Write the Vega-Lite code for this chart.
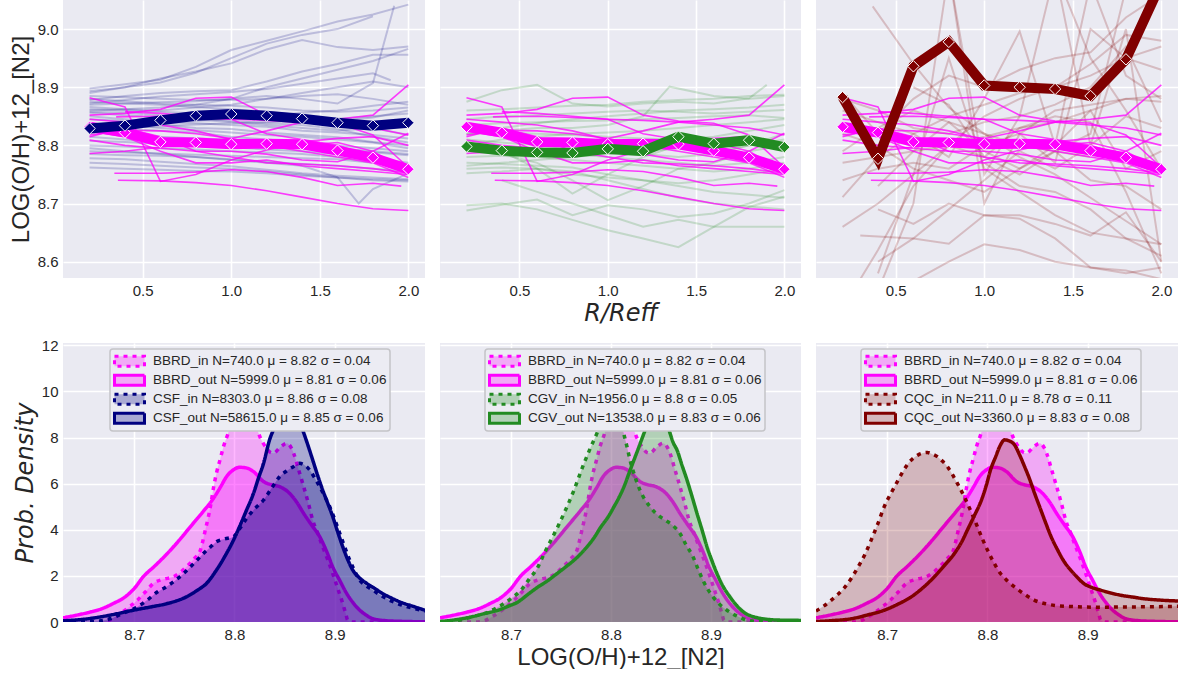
{
"$schema":"https://vega.github.io/schema/vega-lite/v6.json",
"autosize":{"type":"pad"},
"padding":{"left":9,"top":0,"right":0,"bottom":0},
"background":"white",
"datasets":{
"bbrd":[
{"id":"m1","r":0.2,"v":8.882},{"id":"m1","r":0.4,"v":8.866},{"id":"m1","r":0.6,"v":8.738},{"id":"m1","r":0.8,"v":8.750},{"id":"m1","r":1.0,"v":8.775},{"id":"m1","r":1.2,"v":8.792},{"id":"m1","r":1.4,"v":8.806},{"id":"m1","r":1.6,"v":8.812},{"id":"m1","r":1.8,"v":8.815},{"id":"m1","r":2.0,"v":8.800},
{"id":"m2","r":0.2,"v":8.852},{"id":"m2","r":0.4,"v":8.855},{"id":"m2","r":0.6,"v":8.862},{"id":"m2","r":0.8,"v":8.881},{"id":"m2","r":1.0,"v":8.883},{"id":"m2","r":1.2,"v":8.852},{"id":"m2","r":1.4,"v":8.842},{"id":"m2","r":1.6,"v":8.838},{"id":"m2","r":1.8,"v":8.818},{"id":"m2","r":2.0,"v":8.762},
{"id":"m3","r":0.2,"v":8.786},{"id":"m3","r":0.4,"v":8.790},{"id":"m3","r":0.6,"v":8.797},{"id":"m3","r":0.8,"v":8.805},{"id":"m3","r":1.0,"v":8.812},{"id":"m3","r":1.2,"v":8.825},{"id":"m3","r":1.4,"v":8.840},{"id":"m3","r":1.6,"v":8.845},{"id":"m3","r":1.8,"v":8.852},{"id":"m3","r":2.0,"v":8.904},
{"id":"m4","r":0.36,"v":8.740},{"id":"m4","r":0.6,"v":8.739},{"id":"m4","r":0.8,"v":8.736},{"id":"m4","r":1.0,"v":8.731},{"id":"m4","r":1.2,"v":8.722},{"id":"m4","r":1.4,"v":8.711},{"id":"m4","r":1.6,"v":8.700},{"id":"m4","r":1.8,"v":8.691},{"id":"m4","r":2.0,"v":8.688},
{"id":"m5","r":0.34,"v":8.752},{"id":"m5","r":0.6,"v":8.752},{"id":"m5","r":0.8,"v":8.754},{"id":"m5","r":1.0,"v":8.758},{"id":"m5","r":1.2,"v":8.755},{"id":"m5","r":1.4,"v":8.745},{"id":"m5","r":1.6,"v":8.731},{"id":"m5","r":1.8,"v":8.735},{"id":"m5","r":1.96,"v":8.730},
{"id":"m6","r":0.2,"v":8.818},{"id":"m6","r":0.4,"v":8.826},{"id":"m6","r":0.6,"v":8.825},{"id":"m6","r":0.8,"v":8.820},{"id":"m6","r":1.0,"v":8.812},{"id":"m6","r":1.2,"v":8.800},{"id":"m6","r":1.4,"v":8.790},{"id":"m6","r":1.6,"v":8.780},{"id":"m6","r":1.8,"v":8.770},{"id":"m6","r":2.0,"v":8.745},
{"id":"m7","r":0.2,"v":8.809},{"id":"m7","r":0.4,"v":8.800},{"id":"m7","r":0.6,"v":8.795},{"id":"m7","r":0.8,"v":8.790},{"id":"m7","r":1.0,"v":8.790},{"id":"m7","r":1.2,"v":8.785},{"id":"m7","r":1.4,"v":8.775},{"id":"m7","r":1.6,"v":8.772},{"id":"m7","r":1.8,"v":8.790},{"id":"m7","r":2.0,"v":8.821},
{"id":"m8","r":0.35,"v":8.849},{"id":"m8","r":0.6,"v":8.850},{"id":"m8","r":0.8,"v":8.848},{"id":"m8","r":1.0,"v":8.845},{"id":"m8","r":1.2,"v":8.843},{"id":"m8","r":1.4,"v":8.840},{"id":"m8","r":1.6,"v":8.835},{"id":"m8","r":1.8,"v":8.830},{"id":"m8","r":2.0,"v":8.818},
{"id":"m9","r":0.2,"v":8.825},{"id":"m9","r":0.4,"v":8.815},{"id":"m9","r":0.6,"v":8.790},{"id":"m9","r":0.8,"v":8.770},{"id":"m9","r":1.0,"v":8.770},{"id":"m9","r":1.2,"v":8.775},{"id":"m9","r":1.4,"v":8.765},{"id":"m9","r":1.6,"v":8.760},{"id":"m9","r":1.8,"v":8.755},{"id":"m9","r":2.0,"v":8.750},
{"id":"m10","r":0.2,"v":8.815},{"id":"m10","r":0.4,"v":8.830},{"id":"m10","r":0.6,"v":8.815},{"id":"m10","r":0.8,"v":8.790},{"id":"m10","r":1.0,"v":8.780},{"id":"m10","r":1.2,"v":8.770},{"id":"m10","r":1.4,"v":8.768},{"id":"m10","r":1.6,"v":8.765},{"id":"m10","r":1.8,"v":8.760},{"id":"m10","r":2.0,"v":8.752},
{"id":"m11","r":0.2,"v":8.845},{"id":"m11","r":0.4,"v":8.840},{"id":"m11","r":0.6,"v":8.835},{"id":"m11","r":0.8,"v":8.825},{"id":"m11","r":1.0,"v":8.810},{"id":"m11","r":1.2,"v":8.795},{"id":"m11","r":1.4,"v":8.800},{"id":"m11","r":1.6,"v":8.805},{"id":"m11","r":1.8,"v":8.790},{"id":"m11","r":2.0,"v":8.755},
{"id":"m12","r":0.4,"v":8.858},{"id":"m12","r":0.6,"v":8.855},{"id":"m12","r":0.8,"v":8.850},{"id":"m12","r":1.0,"v":8.845},{"id":"m12","r":1.2,"v":8.820},{"id":"m12","r":1.4,"v":8.810},{"id":"m12","r":1.6,"v":8.800},{"id":"m12","r":1.8,"v":8.780},{"id":"m12","r":2.0,"v":8.760}
],
"csf":[
{"id":"n1","r":0.2,"v":8.898},{"id":"n1","r":0.4,"v":8.905},{"id":"n1","r":0.6,"v":8.913},{"id":"n1","r":0.8,"v":8.935},{"id":"n1","r":1.0,"v":8.964},{"id":"n1","r":1.2,"v":8.980},{"id":"n1","r":1.4,"v":8.996},{"id":"n1","r":1.6,"v":9.013},{"id":"n1","r":1.8,"v":9.025},{"id":"n1","r":2.0,"v":9.042},
{"id":"n2","r":0.2,"v":8.893},{"id":"n2","r":0.4,"v":8.900},{"id":"n2","r":0.6,"v":8.908},{"id":"n2","r":0.8,"v":8.925},{"id":"n2","r":1.0,"v":8.950},{"id":"n2","r":1.2,"v":8.975},{"id":"n2","r":1.4,"v":8.990},{"id":"n2","r":1.6,"v":9.000},{"id":"n2","r":1.8,"v":9.022},
{"id":"n3","r":0.2,"v":8.890},{"id":"n3","r":0.4,"v":8.900},{"id":"n3","r":0.6,"v":8.915},{"id":"n3","r":0.8,"v":8.927},{"id":"n3","r":1.0,"v":8.941},{"id":"n3","r":1.2,"v":8.965},{"id":"n3","r":1.4,"v":8.981},{"id":"n3","r":1.6,"v":8.969},{"id":"n3","r":1.8,"v":8.964},{"id":"n3","r":2.0,"v":8.970},
{"id":"n4","r":0.2,"v":8.878},{"id":"n4","r":0.4,"v":8.885},{"id":"n4","r":0.6,"v":8.890},{"id":"n4","r":0.8,"v":8.893},{"id":"n4","r":1.0,"v":8.895},{"id":"n4","r":1.2,"v":8.910},{"id":"n4","r":1.4,"v":8.927},{"id":"n4","r":1.6,"v":8.940},{"id":"n4","r":1.8,"v":8.956},{"id":"n4","r":2.0,"v":8.956},
{"id":"n5","r":0.2,"v":8.872},{"id":"n5","r":0.4,"v":8.878},{"id":"n5","r":0.6,"v":8.884},{"id":"n5","r":0.8,"v":8.888},{"id":"n5","r":1.0,"v":8.892},{"id":"n5","r":1.2,"v":8.897},{"id":"n5","r":1.4,"v":8.906},{"id":"n5","r":1.6,"v":8.915},{"id":"n5","r":1.8,"v":8.924},{"id":"n5","r":1.9,"v":8.912},
{"id":"n6","r":0.2,"v":8.870},{"id":"n6","r":0.4,"v":8.872},{"id":"n6","r":0.6,"v":8.874},{"id":"n6","r":0.8,"v":8.876},{"id":"n6","r":1.0,"v":8.880},{"id":"n6","r":1.2,"v":8.885},{"id":"n6","r":1.4,"v":8.880},{"id":"n6","r":1.6,"v":8.872},{"id":"n6","r":1.8,"v":8.907},{"id":"n6","r":1.92,"v":9.040},
{"id":"n7","r":0.2,"v":8.860},{"id":"n7","r":0.4,"v":8.862},{"id":"n7","r":0.6,"v":8.865},{"id":"n7","r":0.8,"v":8.870},{"id":"n7","r":1.0,"v":8.880},{"id":"n7","r":1.2,"v":8.900},{"id":"n7","r":1.4,"v":8.915},{"id":"n7","r":1.6,"v":8.930},{"id":"n7","r":1.8,"v":8.945},{"id":"n7","r":2.0,"v":8.966},
{"id":"n8","r":0.2,"v":8.866},{"id":"n8","r":0.4,"v":8.862},{"id":"n8","r":0.6,"v":8.860},{"id":"n8","r":0.8,"v":8.865},{"id":"n8","r":1.0,"v":8.870},{"id":"n8","r":1.2,"v":8.880},{"id":"n8","r":1.4,"v":8.890},{"id":"n8","r":1.6,"v":8.900},{"id":"n8","r":1.8,"v":8.910},{"id":"n8","r":2.0,"v":8.900},
{"id":"n9","r":0.2,"v":8.885},{"id":"n9","r":0.4,"v":8.883},{"id":"n9","r":0.6,"v":8.880},{"id":"n9","r":0.8,"v":8.878},{"id":"n9","r":1.0,"v":8.878},{"id":"n9","r":1.2,"v":8.880},{"id":"n9","r":1.4,"v":8.885},{"id":"n9","r":1.6,"v":8.888},{"id":"n9","r":1.8,"v":8.880},{"id":"n9","r":2.0,"v":8.870},
{"id":"n10","r":0.2,"v":8.880},{"id":"n10","r":0.4,"v":8.876},{"id":"n10","r":0.6,"v":8.872},{"id":"n10","r":0.8,"v":8.870},{"id":"n10","r":1.0,"v":8.868},{"id":"n10","r":1.2,"v":8.865},{"id":"n10","r":1.4,"v":8.860},{"id":"n10","r":1.6,"v":8.858},{"id":"n10","r":1.8,"v":8.860},{"id":"n10","r":2.0,"v":8.865},
{"id":"n11","r":0.2,"v":8.862},{"id":"n11","r":0.4,"v":8.860},{"id":"n11","r":0.6,"v":8.858},{"id":"n11","r":0.8,"v":8.855},{"id":"n11","r":1.0,"v":8.850},{"id":"n11","r":1.2,"v":8.848},{"id":"n11","r":1.4,"v":8.845},{"id":"n11","r":1.6,"v":8.842},{"id":"n11","r":1.8,"v":8.848},{"id":"n11","r":2.0,"v":8.860},
{"id":"n12","r":0.2,"v":8.856},{"id":"n12","r":0.4,"v":8.852},{"id":"n12","r":0.6,"v":8.848},{"id":"n12","r":0.8,"v":8.845},{"id":"n12","r":1.0,"v":8.840},{"id":"n12","r":1.2,"v":8.835},{"id":"n12","r":1.4,"v":8.830},{"id":"n12","r":1.6,"v":8.825},{"id":"n12","r":1.8,"v":8.830},{"id":"n12","r":2.0,"v":8.840},
{"id":"n13","r":0.2,"v":8.850},{"id":"n13","r":0.4,"v":8.845},{"id":"n13","r":0.6,"v":8.840},{"id":"n13","r":0.8,"v":8.838},{"id":"n13","r":1.0,"v":8.835},{"id":"n13","r":1.2,"v":8.832},{"id":"n13","r":1.4,"v":8.825},{"id":"n13","r":1.6,"v":8.822},{"id":"n13","r":1.8,"v":8.818},{"id":"n13","r":2.0,"v":8.812},
{"id":"n14","r":0.2,"v":8.845},{"id":"n14","r":0.4,"v":8.842},{"id":"n14","r":0.6,"v":8.836},{"id":"n14","r":0.8,"v":8.830},{"id":"n14","r":1.0,"v":8.828},{"id":"n14","r":1.2,"v":8.822},{"id":"n14","r":1.4,"v":8.818},{"id":"n14","r":1.6,"v":8.814},{"id":"n14","r":1.8,"v":8.806},{"id":"n14","r":2.0,"v":8.800},
{"id":"n15","r":0.2,"v":8.838},{"id":"n15","r":0.4,"v":8.835},{"id":"n15","r":0.6,"v":8.830},{"id":"n15","r":0.8,"v":8.826},{"id":"n15","r":1.0,"v":8.822},{"id":"n15","r":1.2,"v":8.818},{"id":"n15","r":1.4,"v":8.815},{"id":"n15","r":1.6,"v":8.810},{"id":"n15","r":1.8,"v":8.805},{"id":"n15","r":2.0,"v":8.795},
{"id":"n16","r":0.2,"v":8.830},{"id":"n16","r":0.4,"v":8.828},{"id":"n16","r":0.6,"v":8.825},{"id":"n16","r":0.8,"v":8.822},{"id":"n16","r":1.0,"v":8.815},{"id":"n16","r":1.2,"v":8.810},{"id":"n16","r":1.4,"v":8.805},{"id":"n16","r":1.6,"v":8.800},{"id":"n16","r":1.8,"v":8.795},{"id":"n16","r":2.0,"v":8.790},
{"id":"n17","r":0.2,"v":8.822},{"id":"n17","r":0.4,"v":8.820},{"id":"n17","r":0.6,"v":8.815},{"id":"n17","r":0.8,"v":8.812},{"id":"n17","r":1.0,"v":8.810},{"id":"n17","r":1.2,"v":8.808},{"id":"n17","r":1.4,"v":8.800},{"id":"n17","r":1.6,"v":8.795},{"id":"n17","r":1.8,"v":8.790},{"id":"n17","r":2.0,"v":8.785},
{"id":"n18","r":0.2,"v":8.815},{"id":"n18","r":0.4,"v":8.810},{"id":"n18","r":0.6,"v":8.806},{"id":"n18","r":0.8,"v":8.802},{"id":"n18","r":1.0,"v":8.800},{"id":"n18","r":1.2,"v":8.798},{"id":"n18","r":1.4,"v":8.795},{"id":"n18","r":1.6,"v":8.790},{"id":"n18","r":1.8,"v":8.788},{"id":"n18","r":2.0,"v":8.783},
{"id":"n19","r":0.2,"v":8.808},{"id":"n19","r":0.4,"v":8.806},{"id":"n19","r":0.6,"v":8.803},{"id":"n19","r":0.8,"v":8.800},{"id":"n19","r":1.0,"v":8.797},{"id":"n19","r":1.2,"v":8.793},{"id":"n19","r":1.4,"v":8.790},{"id":"n19","r":1.6,"v":8.785},{"id":"n19","r":1.8,"v":8.778},{"id":"n19","r":2.0,"v":8.770},
{"id":"n20","r":0.2,"v":8.800},{"id":"n20","r":0.4,"v":8.798},{"id":"n20","r":0.6,"v":8.795},{"id":"n20","r":0.8,"v":8.793},{"id":"n20","r":1.0,"v":8.790},{"id":"n20","r":1.2,"v":8.788},{"id":"n20","r":1.4,"v":8.785},{"id":"n20","r":1.6,"v":8.780},{"id":"n20","r":1.8,"v":8.774},{"id":"n20","r":2.0,"v":8.765},
{"id":"n21","r":0.2,"v":8.790},{"id":"n21","r":0.4,"v":8.788},{"id":"n21","r":0.6,"v":8.786},{"id":"n21","r":0.8,"v":8.784},{"id":"n21","r":1.0,"v":8.782},{"id":"n21","r":1.2,"v":8.780},{"id":"n21","r":1.4,"v":8.778},{"id":"n21","r":1.6,"v":8.776},{"id":"n21","r":1.8,"v":8.770},{"id":"n21","r":2.0,"v":8.762},
{"id":"n22","r":0.2,"v":8.785},{"id":"n22","r":0.4,"v":8.783},{"id":"n22","r":0.6,"v":8.782},{"id":"n22","r":0.8,"v":8.780},{"id":"n22","r":1.0,"v":8.776},{"id":"n22","r":1.2,"v":8.772},{"id":"n22","r":1.4,"v":8.768},{"id":"n22","r":1.6,"v":8.765},{"id":"n22","r":1.8,"v":8.760},{"id":"n22","r":2.0,"v":8.755},
{"id":"n23","r":0.2,"v":8.778},{"id":"n23","r":0.4,"v":8.776},{"id":"n23","r":0.6,"v":8.772},{"id":"n23","r":0.8,"v":8.768},{"id":"n23","r":1.0,"v":8.764},{"id":"n23","r":1.2,"v":8.758},{"id":"n23","r":1.4,"v":8.752},{"id":"n23","r":1.6,"v":8.748},{"id":"n23","r":1.8,"v":8.745},{"id":"n23","r":2.0,"v":8.742},
{"id":"n24","r":0.2,"v":8.770},{"id":"n24","r":0.4,"v":8.768},{"id":"n24","r":0.6,"v":8.765},{"id":"n24","r":0.8,"v":8.762},{"id":"n24","r":1.0,"v":8.760},{"id":"n24","r":1.2,"v":8.755},{"id":"n24","r":1.4,"v":8.750},{"id":"n24","r":1.6,"v":8.745},{"id":"n24","r":1.8,"v":8.742},{"id":"n24","r":2.0,"v":8.740},
{"id":"n25","r":0.2,"v":8.762},{"id":"n25","r":0.4,"v":8.760},{"id":"n25","r":0.6,"v":8.758},{"id":"n25","r":0.8,"v":8.756},{"id":"n25","r":1.0,"v":8.755},{"id":"n25","r":1.2,"v":8.752},{"id":"n25","r":1.4,"v":8.748},{"id":"n25","r":1.6,"v":8.745},{"id":"n25","r":1.8,"v":8.740},{"id":"n25","r":2.0,"v":8.738},
{"id":"n26","r":0.2,"v":8.795},{"id":"n26","r":0.4,"v":8.790},{"id":"n26","r":0.6,"v":8.785},{"id":"n26","r":0.8,"v":8.780},{"id":"n26","r":1.0,"v":8.775},{"id":"n26","r":1.2,"v":8.770},{"id":"n26","r":1.4,"v":8.765},{"id":"n26","r":1.6,"v":8.745},{"id":"n26","r":1.72,"v":8.700},{"id":"n26","r":1.8,"v":8.725},{"id":"n26","r":2.0,"v":8.752},
{"id":"n27","r":0.2,"v":8.875},{"id":"n27","r":0.4,"v":8.872},{"id":"n27","r":0.6,"v":8.870},{"id":"n27","r":0.8,"v":8.866},{"id":"n27","r":1.0,"v":8.862},{"id":"n27","r":1.2,"v":8.858},{"id":"n27","r":1.4,"v":8.852},{"id":"n27","r":1.6,"v":8.842},{"id":"n27","r":1.8,"v":8.830},{"id":"n27","r":2.0,"v":8.818},
{"id":"n28","r":0.2,"v":8.858},{"id":"n28","r":0.4,"v":8.856},{"id":"n28","r":0.6,"v":8.852},{"id":"n28","r":0.8,"v":8.848},{"id":"n28","r":1.0,"v":8.842},{"id":"n28","r":1.2,"v":8.838},{"id":"n28","r":1.4,"v":8.835},{"id":"n28","r":1.6,"v":8.828},{"id":"n28","r":1.8,"v":8.815},{"id":"n28","r":2.0,"v":8.805},
{"id":"n29","r":0.2,"v":8.835},{"id":"n29","r":0.4,"v":8.838},{"id":"n29","r":0.6,"v":8.840},{"id":"n29","r":0.8,"v":8.842},{"id":"n29","r":1.0,"v":8.846},{"id":"n29","r":1.2,"v":8.850},{"id":"n29","r":1.4,"v":8.856},{"id":"n29","r":1.6,"v":8.860},{"id":"n29","r":1.8,"v":8.868},{"id":"n29","r":2.0,"v":8.875},
{"id":"n30","r":0.2,"v":8.827},{"id":"n30","r":0.4,"v":8.830},{"id":"n30","r":0.6,"v":8.833},{"id":"n30","r":0.8,"v":8.836},{"id":"n30","r":1.0,"v":8.838},{"id":"n30","r":1.2,"v":8.840},{"id":"n30","r":1.4,"v":8.842},{"id":"n30","r":1.6,"v":8.846},{"id":"n30","r":1.8,"v":8.850},{"id":"n30","r":2.0,"v":8.855}
],
"cgv":[
{"id":"g1","r":0.2,"v":8.875},{"id":"g1","r":0.4,"v":8.895},{"id":"g1","r":0.6,"v":8.904},{"id":"g1","r":0.8,"v":8.872},{"id":"g1","r":1.0,"v":8.867},{"id":"g1","r":1.2,"v":8.872},{"id":"g1","r":1.4,"v":8.875},{"id":"g1","r":1.6,"v":8.872},{"id":"g1","r":1.8,"v":8.881},{"id":"g1","r":1.9,"v":8.904},
{"id":"g2","r":0.2,"v":8.820},{"id":"g2","r":0.4,"v":8.825},{"id":"g2","r":0.6,"v":8.830},{"id":"g2","r":0.8,"v":8.830},{"id":"g2","r":1.0,"v":8.835},{"id":"g2","r":1.2,"v":8.850},{"id":"g2","r":1.35,"v":8.901},{"id":"g2","r":1.6,"v":8.885},{"id":"g2","r":1.8,"v":8.880},{"id":"g2","r":2.0,"v":8.885},
{"id":"g3","r":0.2,"v":8.688},{"id":"g3","r":0.4,"v":8.698},{"id":"g3","r":0.6,"v":8.707},{"id":"g3","r":0.8,"v":8.680},{"id":"g3","r":1.0,"v":8.697},{"id":"g3","r":1.2,"v":8.690},{"id":"g3","r":1.4,"v":8.677},{"id":"g3","r":1.6,"v":8.683},{"id":"g3","r":1.8,"v":8.700},{"id":"g3","r":2.0,"v":8.723},
{"id":"g4","r":0.2,"v":8.697},{"id":"g4","r":0.4,"v":8.700},{"id":"g4","r":0.6,"v":8.690},{"id":"g4","r":0.8,"v":8.672},{"id":"g4","r":1.0,"v":8.654},{"id":"g4","r":1.2,"v":8.640},{"id":"g4","r":1.4,"v":8.625},{"id":"g4","r":1.6,"v":8.660},{"id":"g4","r":1.8,"v":8.694},{"id":"g4","r":2.0,"v":8.712},
{"id":"g5","r":0.4,"v":8.740},{"id":"g5","r":0.6,"v":8.720},{"id":"g5","r":0.8,"v":8.700},{"id":"g5","r":1.0,"v":8.680},{"id":"g5","r":1.2,"v":8.660},{"id":"g5","r":1.4,"v":8.672},{"id":"g5","r":1.6,"v":8.660},{"id":"g5","r":1.8,"v":8.660},{"id":"g5","r":2.0,"v":8.660},
{"id":"g6","r":0.2,"v":8.790},{"id":"g6","r":0.4,"v":8.785},{"id":"g6","r":0.6,"v":8.770},{"id":"g6","r":0.8,"v":8.740},{"id":"g6","r":1.0,"v":8.706},{"id":"g6","r":1.2,"v":8.730},{"id":"g6","r":1.4,"v":8.760},{"id":"g6","r":1.6,"v":8.770},{"id":"g6","r":1.8,"v":8.790},{"id":"g6","r":2.0,"v":8.800},
{"id":"g7","r":0.2,"v":8.800},{"id":"g7","r":0.4,"v":8.790},{"id":"g7","r":0.6,"v":8.760},{"id":"g7","r":0.8,"v":8.717},{"id":"g7","r":1.0,"v":8.750},{"id":"g7","r":1.2,"v":8.780},{"id":"g7","r":1.4,"v":8.800},{"id":"g7","r":1.6,"v":8.790},{"id":"g7","r":1.8,"v":8.800},{"id":"g7","r":2.0,"v":8.810},
{"id":"g8","r":0.2,"v":8.860},{"id":"g8","r":0.4,"v":8.862},{"id":"g8","r":0.6,"v":8.865},{"id":"g8","r":0.8,"v":8.868},{"id":"g8","r":1.0,"v":8.870},{"id":"g8","r":1.2,"v":8.875},{"id":"g8","r":1.4,"v":8.878},{"id":"g8","r":1.6,"v":8.880},{"id":"g8","r":1.8,"v":8.885},{"id":"g8","r":2.0,"v":8.887},
{"id":"g9","r":0.2,"v":8.845},{"id":"g9","r":0.4,"v":8.850},{"id":"g9","r":0.6,"v":8.852},{"id":"g9","r":0.8,"v":8.855},{"id":"g9","r":1.0,"v":8.858},{"id":"g9","r":1.2,"v":8.860},{"id":"g9","r":1.4,"v":8.858},{"id":"g9","r":1.6,"v":8.855},{"id":"g9","r":1.8,"v":8.858},{"id":"g9","r":2.0,"v":8.861},
{"id":"g10","r":0.2,"v":8.835},{"id":"g10","r":0.4,"v":8.838},{"id":"g10","r":0.6,"v":8.840},{"id":"g10","r":0.8,"v":8.842},{"id":"g10","r":1.0,"v":8.843},{"id":"g10","r":1.2,"v":8.845},{"id":"g10","r":1.4,"v":8.847},{"id":"g10","r":1.6,"v":8.850},{"id":"g10","r":1.8,"v":8.852},{"id":"g10","r":2.0,"v":8.847},
{"id":"g11","r":0.2,"v":8.820},{"id":"g11","r":0.4,"v":8.822},{"id":"g11","r":0.6,"v":8.820},{"id":"g11","r":0.8,"v":8.818},{"id":"g11","r":1.0,"v":8.815},{"id":"g11","r":1.2,"v":8.812},{"id":"g11","r":1.4,"v":8.810},{"id":"g11","r":1.6,"v":8.815},{"id":"g11","r":1.8,"v":8.825},{"id":"g11","r":2.0,"v":8.835},
{"id":"g12","r":0.2,"v":8.810},{"id":"g12","r":0.4,"v":8.805},{"id":"g12","r":0.6,"v":8.800},{"id":"g12","r":0.8,"v":8.795},{"id":"g12","r":1.0,"v":8.790},{"id":"g12","r":1.2,"v":8.785},{"id":"g12","r":1.4,"v":8.780},{"id":"g12","r":1.6,"v":8.785},{"id":"g12","r":1.8,"v":8.800},{"id":"g12","r":2.0,"v":8.820},
{"id":"g13","r":0.2,"v":8.790},{"id":"g13","r":0.4,"v":8.790},{"id":"g13","r":0.6,"v":8.788},{"id":"g13","r":0.8,"v":8.785},{"id":"g13","r":1.0,"v":8.780},{"id":"g13","r":1.2,"v":8.775},{"id":"g13","r":1.4,"v":8.770},{"id":"g13","r":1.6,"v":8.765},{"id":"g13","r":1.8,"v":8.770},{"id":"g13","r":2.0,"v":8.780},
{"id":"g14","r":0.2,"v":8.780},{"id":"g14","r":0.4,"v":8.782},{"id":"g14","r":0.6,"v":8.780},{"id":"g14","r":0.8,"v":8.775},{"id":"g14","r":1.0,"v":8.770},{"id":"g14","r":1.2,"v":8.765},{"id":"g14","r":1.4,"v":8.760},{"id":"g14","r":1.6,"v":8.755},{"id":"g14","r":1.8,"v":8.760},{"id":"g14","r":2.0,"v":8.770},
{"id":"g15","r":0.2,"v":8.770},{"id":"g15","r":0.4,"v":8.768},{"id":"g15","r":0.6,"v":8.765},{"id":"g15","r":0.8,"v":8.762},{"id":"g15","r":1.0,"v":8.750},{"id":"g15","r":1.2,"v":8.740},{"id":"g15","r":1.4,"v":8.735},{"id":"g15","r":1.6,"v":8.740},{"id":"g15","r":1.8,"v":8.750},{"id":"g15","r":2.0,"v":8.760},
{"id":"g16","r":0.2,"v":8.765},{"id":"g16","r":0.4,"v":8.770},{"id":"g16","r":0.6,"v":8.775},{"id":"g16","r":0.8,"v":8.780},{"id":"g16","r":1.0,"v":8.785},{"id":"g16","r":1.2,"v":8.790},{"id":"g16","r":1.4,"v":8.795},{"id":"g16","r":1.6,"v":8.800},{"id":"g16","r":1.8,"v":8.805},{"id":"g16","r":2.0,"v":8.800},
{"id":"g17","r":0.2,"v":8.800},{"id":"g17","r":0.4,"v":8.810},{"id":"g17","r":0.6,"v":8.815},{"id":"g17","r":0.8,"v":8.820},{"id":"g17","r":1.0,"v":8.822},{"id":"g17","r":1.2,"v":8.825},{"id":"g17","r":1.4,"v":8.830},{"id":"g17","r":1.6,"v":8.835},{"id":"g17","r":1.8,"v":8.840},{"id":"g17","r":2.0,"v":8.845},
{"id":"g18","r":0.2,"v":8.760},{"id":"g18","r":0.4,"v":8.762},{"id":"g18","r":0.6,"v":8.760},{"id":"g18","r":0.8,"v":8.750},{"id":"g18","r":1.0,"v":8.745},{"id":"g18","r":1.2,"v":8.740},{"id":"g18","r":1.4,"v":8.730},{"id":"g18","r":1.6,"v":8.720},{"id":"g18","r":1.8,"v":8.715},{"id":"g18","r":2.0,"v":8.710},
{"id":"g19","r":0.2,"v":8.825},{"id":"g19","r":0.4,"v":8.830},{"id":"g19","r":0.6,"v":8.838},{"id":"g19","r":0.8,"v":8.845},{"id":"g19","r":1.0,"v":8.850},{"id":"g19","r":1.2,"v":8.855},{"id":"g19","r":1.4,"v":8.860},{"id":"g19","r":1.6,"v":8.862},{"id":"g19","r":1.8,"v":8.865},{"id":"g19","r":2.0,"v":8.870},
{"id":"g20","r":0.2,"v":8.752},{"id":"g20","r":0.4,"v":8.755},{"id":"g20","r":0.6,"v":8.760},{"id":"g20","r":0.8,"v":8.755},{"id":"g20","r":1.0,"v":8.740},{"id":"g20","r":1.2,"v":8.725},{"id":"g20","r":1.4,"v":8.710},{"id":"g20","r":1.6,"v":8.700},{"id":"g20","r":1.8,"v":8.695},{"id":"g20","r":2.0,"v":8.690}
],
"cqc":[
{"id":"c1","r":0.37,"v":9.039},{"id":"c1","r":0.6,"v":8.940},{"id":"c1","r":0.8,"v":8.865},{"id":"c1","r":1.0,"v":8.820},{"id":"c1","r":1.2,"v":8.800},{"id":"c1","r":1.4,"v":8.790},{"id":"c1","r":1.6,"v":8.780},
{"id":"c2","r":0.2,"v":8.711},{"id":"c2","r":0.4,"v":8.780},{"id":"c2","r":0.6,"v":8.820},{"id":"c2","r":0.8,"v":8.850},{"id":"c2","r":1.0,"v":8.870},{"id":"c2","r":1.2,"v":8.890},{"id":"c2","r":1.4,"v":8.900},{"id":"c2","r":1.6,"v":8.920},{"id":"c2","r":1.8,"v":8.950},{"id":"c2","r":2.0,"v":8.970},
{"id":"c3","r":0.2,"v":8.660},{"id":"c3","r":0.4,"v":8.700},{"id":"c3","r":0.6,"v":8.750},{"id":"c3","r":0.8,"v":8.800},{"id":"c3","r":1.0,"v":8.850},{"id":"c3","r":1.2,"v":8.880},{"id":"c3","r":1.4,"v":8.900},{"id":"c3","r":1.6,"v":8.940},{"id":"c3","r":1.8,"v":8.990},{"id":"c3","r":2.0,"v":8.980},
{"id":"c4","r":0.3,"v":8.645},{"id":"c4","r":0.6,"v":8.640},{"id":"c4","r":0.8,"v":8.631},{"id":"c4","r":1.0,"v":8.680},{"id":"c4","r":1.2,"v":8.674},{"id":"c4","r":1.4,"v":8.640},{"id":"c4","r":1.6,"v":8.590},{"id":"c4","r":1.8,"v":8.585},{"id":"c4","r":2.0,"v":8.570},
{"id":"c5","r":0.4,"v":8.690},{"id":"c5","r":0.6,"v":8.665},{"id":"c5","r":0.8,"v":8.700},{"id":"c5","r":1.0,"v":8.680},{"id":"c5","r":1.2,"v":8.680},{"id":"c5","r":1.4,"v":8.665},{"id":"c5","r":1.6,"v":8.645},{"id":"c5","r":1.8,"v":8.685},{"id":"c5","r":2.0,"v":8.600},
{"id":"c6","r":0.4,"v":8.550},{"id":"c6","r":0.6,"v":8.700},{"id":"c6","r":0.8,"v":9.100},{"id":"c6","r":1.0,"v":8.750},{"id":"c6","r":1.2,"v":8.850},{"id":"c6","r":1.4,"v":9.100},{"id":"c6","r":1.6,"v":8.800},{"id":"c6","r":1.8,"v":9.000},{"id":"c6","r":2.0,"v":8.600},
{"id":"c7","r":0.2,"v":8.860},{"id":"c7","r":0.4,"v":8.840},{"id":"c7","r":0.6,"v":8.820},{"id":"c7","r":0.8,"v":8.780},{"id":"c7","r":1.0,"v":8.880},{"id":"c7","r":1.2,"v":8.996},{"id":"c7","r":1.4,"v":8.800},{"id":"c7","r":1.6,"v":8.860},{"id":"c7","r":1.8,"v":8.760},{"id":"c7","r":2.0,"v":8.790},
{"id":"c8","r":0.2,"v":8.880},{"id":"c8","r":0.4,"v":8.860},{"id":"c8","r":0.6,"v":8.830},{"id":"c8","r":0.8,"v":8.820},{"id":"c8","r":1.0,"v":8.840},{"id":"c8","r":1.2,"v":8.850},{"id":"c8","r":1.4,"v":8.870},{"id":"c8","r":1.6,"v":8.900},{"id":"c8","r":1.8,"v":8.970},{"id":"c8","r":2.0,"v":8.840},
{"id":"c9","r":0.4,"v":8.580},{"id":"c9","r":0.6,"v":8.750},{"id":"c9","r":0.8,"v":8.950},{"id":"c9","r":1.0,"v":8.760},{"id":"c9","r":1.2,"v":8.720},{"id":"c9","r":1.4,"v":8.680},{"id":"c9","r":1.6,"v":8.650},{"id":"c9","r":1.8,"v":8.640},{"id":"c9","r":2.0,"v":8.630},
{"id":"c10","r":0.2,"v":8.740},{"id":"c10","r":0.4,"v":8.760},{"id":"c10","r":0.6,"v":8.770},{"id":"c10","r":0.8,"v":8.760},{"id":"c10","r":1.0,"v":8.800},{"id":"c10","r":1.2,"v":8.820},{"id":"c10","r":1.4,"v":8.860},{"id":"c10","r":1.6,"v":8.870},{"id":"c10","r":1.8,"v":8.880},{"id":"c10","r":2.0,"v":8.885},
{"id":"c11","r":0.2,"v":8.820},{"id":"c11","r":0.4,"v":8.800},{"id":"c11","r":0.6,"v":8.760},{"id":"c11","r":0.8,"v":8.740},{"id":"c11","r":1.0,"v":8.720},{"id":"c11","r":1.2,"v":8.760},{"id":"c11","r":1.4,"v":8.800},{"id":"c11","r":1.6,"v":9.080},{"id":"c11","r":1.8,"v":8.920},{"id":"c11","r":2.0,"v":8.880},
{"id":"c12","r":0.3,"v":8.570},{"id":"c12","r":0.4,"v":8.620},{"id":"c12","r":0.6,"v":8.730},{"id":"c12","r":0.8,"v":8.800},{"id":"c12","r":1.0,"v":8.780},{"id":"c12","r":1.2,"v":8.830},{"id":"c12","r":1.4,"v":8.850},{"id":"c12","r":1.6,"v":8.840},{"id":"c12","r":1.8,"v":8.720},{"id":"c12","r":2.0,"v":8.580},
{"id":"c13","r":0.6,"v":8.900},{"id":"c13","r":0.8,"v":8.870},{"id":"c13","r":1.0,"v":8.780},{"id":"c13","r":1.2,"v":8.750},{"id":"c13","r":1.4,"v":8.790},{"id":"c13","r":1.6,"v":8.820},{"id":"c13","r":1.8,"v":9.070},{"id":"c13","r":2.0,"v":9.100},
{"id":"c14","r":1.0,"v":8.770},{"id":"c14","r":1.2,"v":8.730},{"id":"c14","r":1.4,"v":8.720},{"id":"c14","r":1.6,"v":8.690},{"id":"c14","r":1.8,"v":8.640},{"id":"c14","r":2.0,"v":8.610},
{"id":"c15","r":0.4,"v":8.600},{"id":"c15","r":0.6,"v":8.640},{"id":"c15","r":0.8,"v":8.690},{"id":"c15","r":1.0,"v":8.740},{"id":"c15","r":1.2,"v":8.790},{"id":"c15","r":1.4,"v":8.760},{"id":"c15","r":1.6,"v":8.800},{"id":"c15","r":1.8,"v":8.850},{"id":"c15","r":2.0,"v":8.830},
{"id":"c16","r":0.2,"v":8.770},{"id":"c16","r":0.4,"v":8.780},{"id":"c16","r":0.6,"v":8.790},{"id":"c16","r":0.8,"v":8.800},{"id":"c16","r":1.0,"v":8.815},{"id":"c16","r":1.2,"v":8.830},{"id":"c16","r":1.4,"v":8.840},{"id":"c16","r":1.6,"v":8.860},{"id":"c16","r":1.8,"v":8.880},{"id":"c16","r":2.0,"v":8.875},
{"id":"c17","r":0.2,"v":8.790},{"id":"c17","r":0.4,"v":8.830},{"id":"c17","r":0.6,"v":8.860},{"id":"c17","r":0.8,"v":8.840},{"id":"c17","r":1.0,"v":8.790},{"id":"c17","r":1.2,"v":8.760},{"id":"c17","r":1.4,"v":8.790},{"id":"c17","r":1.6,"v":8.740},{"id":"c17","r":1.8,"v":8.730},{"id":"c17","r":2.0,"v":8.690},
{"id":"c18","r":0.8,"v":9.100},{"id":"c18","r":1.0,"v":8.700},{"id":"c18","r":1.2,"v":8.820},{"id":"c18","r":1.4,"v":8.770},{"id":"c18","r":1.6,"v":9.000},{"id":"c18","r":1.8,"v":8.950},{"id":"c18","r":2.0,"v":8.930},
{"id":"c19","r":0.5,"v":8.550},{"id":"c19","r":0.8,"v":8.600},{"id":"c19","r":1.0,"v":8.630},{"id":"c19","r":1.2,"v":8.620},{"id":"c19","r":1.4,"v":8.600},{"id":"c19","r":1.6,"v":8.590},{"id":"c19","r":1.8,"v":8.580},{"id":"c19","r":2.0,"v":8.590},
{"id":"c20","r":1.4,"v":9.100},{"id":"c20","r":1.6,"v":8.950},{"id":"c20","r":1.8,"v":8.860},{"id":"c20","r":2.0,"v":8.760},
{"id":"c21","r":0.2,"v":8.890},{"id":"c21","r":0.4,"v":8.820},{"id":"c21","r":0.6,"v":8.880},{"id":"c21","r":0.8,"v":8.920},{"id":"c21","r":1.0,"v":8.900},{"id":"c21","r":1.2,"v":8.930},{"id":"c21","r":1.4,"v":8.950},{"id":"c21","r":1.6,"v":8.960},{"id":"c21","r":1.8,"v":9.020},{"id":"c21","r":2.0,"v":9.060},
{"id":"c22","r":0.4,"v":8.730},{"id":"c22","r":0.6,"v":8.790},{"id":"c22","r":0.8,"v":8.840},{"id":"c22","r":1.0,"v":8.820},{"id":"c22","r":1.2,"v":8.780},{"id":"c22","r":1.4,"v":8.750},{"id":"c22","r":1.6,"v":8.710},{"id":"c22","r":1.8,"v":8.670},{"id":"c22","r":2.0,"v":8.630}
],
"means":[
{"g":"BBRD","r":0.2,"v":8.832},{"g":"BBRD","r":0.4,"v":8.822},{"g":"BBRD","r":0.6,"v":8.806},{"g":"BBRD","r":0.8,"v":8.805},{"g":"BBRD","r":1.0,"v":8.802},{"g":"BBRD","r":1.2,"v":8.803},{"g":"BBRD","r":1.4,"v":8.802},{"g":"BBRD","r":1.6,"v":8.791},{"g":"BBRD","r":1.8,"v":8.779},{"g":"BBRD","r":2.0,"v":8.759},
{"g":"CSF","r":0.2,"v":8.829},{"g":"CSF","r":0.4,"v":8.834},{"g":"CSF","r":0.6,"v":8.843},{"g":"CSF","r":0.8,"v":8.851},{"g":"CSF","r":1.0,"v":8.854},{"g":"CSF","r":1.2,"v":8.851},{"g":"CSF","r":1.4,"v":8.846},{"g":"CSF","r":1.6,"v":8.839},{"g":"CSF","r":1.8,"v":8.834},{"g":"CSF","r":2.0,"v":8.839},
{"g":"CGV","r":0.2,"v":8.798},{"g":"CGV","r":0.4,"v":8.791},{"g":"CGV","r":0.6,"v":8.788},{"g":"CGV","r":0.8,"v":8.787},{"g":"CGV","r":1.0,"v":8.794},{"g":"CGV","r":1.2,"v":8.790},{"g":"CGV","r":1.4,"v":8.815},{"g":"CGV","r":1.6,"v":8.803},{"g":"CGV","r":1.8,"v":8.809},{"g":"CGV","r":2.0,"v":8.797},
{"g":"CQC","r":0.2,"v":8.883},{"g":"CQC","r":0.4,"v":8.777},{"g":"CQC","r":0.6,"v":8.936},{"g":"CQC","r":0.8,"v":8.978},{"g":"CQC","r":1.0,"v":8.903},{"g":"CQC","r":1.2,"v":8.900},{"g":"CQC","r":1.4,"v":8.897},{"g":"CQC","r":1.6,"v":8.885},{"g":"CQC","r":1.8,"v":8.948},{"g":"CQC","r":2.0,"v":9.080}
],
"zero":[{"y":0}],
"kde":[
{"s":"BBRD_in","x":8.629,"y":0},{"s":"BBRD_in","x":8.665,"y":0},{"s":"BBRD_in","x":8.673,"y":0.05},{"s":"BBRD_in","x":8.680,"y":0.2},{"s":"BBRD_in","x":8.686,"y":0.36},{"s":"BBRD_in","x":8.695,"y":0.65},{"s":"BBRD_in","x":8.703,"y":0.94},{"s":"BBRD_in","x":8.711,"y":1.3},{"s":"BBRD_in","x":8.719,"y":1.67},{"s":"BBRD_in","x":8.729,"y":1.85},{"s":"BBRD_in","x":8.739,"y":1.96},{"s":"BBRD_in","x":8.746,"y":2.15},{"s":"BBRD_in","x":8.752,"y":2.39},{"s":"BBRD_in","x":8.760,"y":2.75},{"s":"BBRD_in","x":8.766,"y":3.12},{"s":"BBRD_in","x":8.771,"y":4.0},{"s":"BBRD_in","x":8.776,"y":5.0},{"s":"BBRD_in","x":8.779,"y":5.8},{"s":"BBRD_in","x":8.782,"y":6.45},{"s":"BBRD_in","x":8.786,"y":7.1},{"s":"BBRD_in","x":8.789,"y":7.6},{"s":"BBRD_in","x":8.793,"y":8.1},{"s":"BBRD_in","x":8.796,"y":8.5},{"s":"BBRD_in","x":8.802,"y":9.2},{"s":"BBRD_in","x":8.808,"y":9.6},{"s":"BBRD_in","x":8.814,"y":9.5},{"s":"BBRD_in","x":8.819,"y":8.9},{"s":"BBRD_in","x":8.824,"y":8.19},{"s":"BBRD_in","x":8.828,"y":7.8},{"s":"BBRD_in","x":8.832,"y":7.54},{"s":"BBRD_in","x":8.836,"y":7.35},{"s":"BBRD_in","x":8.839,"y":7.32},{"s":"BBRD_in","x":8.845,"y":7.55},{"s":"BBRD_in","x":8.852,"y":7.75},{"s":"BBRD_in","x":8.856,"y":7.6},{"s":"BBRD_in","x":8.859,"y":7.32},{"s":"BBRD_in","x":8.864,"y":6.6},{"s":"BBRD_in","x":8.869,"y":5.87},{"s":"BBRD_in","x":8.874,"y":5.1},{"s":"BBRD_in","x":8.878,"y":4.42},{"s":"BBRD_in","x":8.883,"y":3.85},{"s":"BBRD_in","x":8.888,"y":3.26},{"s":"BBRD_in","x":8.893,"y":2.7},{"s":"BBRD_in","x":8.898,"y":2.1},{"s":"BBRD_in","x":8.903,"y":1.45},{"s":"BBRD_in","x":8.908,"y":0.8},{"s":"BBRD_in","x":8.911,"y":0.35},{"s":"BBRD_in","x":8.913,"y":0.07},{"s":"BBRD_in","x":8.918,"y":0},{"s":"BBRD_in","x":8.99,"y":0},
{"s":"BBRD_out","x":8.629,"y":0.18},{"s":"BBRD_out","x":8.645,"y":0.32},{"s":"BBRD_out","x":8.656,"y":0.43},{"s":"BBRD_out","x":8.668,"y":0.58},{"s":"BBRD_out","x":8.679,"y":0.8},{"s":"BBRD_out","x":8.691,"y":1.09},{"s":"BBRD_out","x":8.700,"y":1.45},{"s":"BBRD_out","x":8.709,"y":1.96},{"s":"BBRD_out","x":8.721,"y":2.45},{"s":"BBRD_out","x":8.733,"y":2.97},{"s":"BBRD_out","x":8.745,"y":3.55},{"s":"BBRD_out","x":8.756,"y":4.13},{"s":"BBRD_out","x":8.768,"y":4.75},{"s":"BBRD_out","x":8.779,"y":5.36},{"s":"BBRD_out","x":8.786,"y":5.85},{"s":"BBRD_out","x":8.792,"y":6.3},{"s":"BBRD_out","x":8.799,"y":6.6},{"s":"BBRD_out","x":8.805,"y":6.71},{"s":"BBRD_out","x":8.812,"y":6.68},{"s":"BBRD_out","x":8.819,"y":6.52},{"s":"BBRD_out","x":8.829,"y":6.09},{"s":"BBRD_out","x":8.837,"y":5.95},{"s":"BBRD_out","x":8.845,"y":5.87},{"s":"BBRD_out","x":8.855,"y":5.58},{"s":"BBRD_out","x":8.862,"y":5.2},{"s":"BBRD_out","x":8.869,"y":4.71},{"s":"BBRD_out","x":8.877,"y":4.2},{"s":"BBRD_out","x":8.885,"y":3.7},{"s":"BBRD_out","x":8.892,"y":3.05},{"s":"BBRD_out","x":8.898,"y":2.39},{"s":"BBRD_out","x":8.905,"y":1.8},{"s":"BBRD_out","x":8.912,"y":1.23},{"s":"BBRD_out","x":8.918,"y":0.85},{"s":"BBRD_out","x":8.925,"y":0.51},{"s":"BBRD_out","x":8.932,"y":0.28},{"s":"BBRD_out","x":8.938,"y":0.14},{"s":"BBRD_out","x":8.95,"y":0.06},{"s":"BBRD_out","x":8.965,"y":0.03},{"s":"BBRD_out","x":8.99,"y":0.01},
{"s":"CSF_in","x":8.629,"y":0},{"s":"CSF_in","x":8.66,"y":0.02},{"s":"CSF_in","x":8.676,"y":0.14},{"s":"CSF_in","x":8.69,"y":0.4},{"s":"CSF_in","x":8.703,"y":0.65},{"s":"CSF_in","x":8.713,"y":0.95},{"s":"CSF_in","x":8.723,"y":1.3},{"s":"CSF_in","x":8.731,"y":1.5},{"s":"CSF_in","x":8.739,"y":1.74},{"s":"CSF_in","x":8.748,"y":2.05},{"s":"CSF_in","x":8.756,"y":2.39},{"s":"CSF_in","x":8.763,"y":2.7},{"s":"CSF_in","x":8.769,"y":2.97},{"s":"CSF_in","x":8.776,"y":3.25},{"s":"CSF_in","x":8.782,"y":3.48},{"s":"CSF_in","x":8.79,"y":3.6},{"s":"CSF_in","x":8.799,"y":3.7},{"s":"CSF_in","x":8.806,"y":4.1},{"s":"CSF_in","x":8.812,"y":4.49},{"s":"CSF_in","x":8.82,"y":4.9},{"s":"CSF_in","x":8.829,"y":5.29},{"s":"CSF_in","x":8.837,"y":5.8},{"s":"CSF_in","x":8.845,"y":6.3},{"s":"CSF_in","x":8.852,"y":6.55},{"s":"CSF_in","x":8.859,"y":6.74},{"s":"CSF_in","x":8.865,"y":6.88},{"s":"CSF_in","x":8.87,"y":6.8},{"s":"CSF_in","x":8.875,"y":6.59},{"s":"CSF_in","x":8.88,"y":6.25},{"s":"CSF_in","x":8.885,"y":5.87},{"s":"CSF_in","x":8.89,"y":5.45},{"s":"CSF_in","x":8.895,"y":5.0},{"s":"CSF_in","x":8.9,"y":4.45},{"s":"CSF_in","x":8.905,"y":3.84},{"s":"CSF_in","x":8.91,"y":3.25},{"s":"CSF_in","x":8.915,"y":2.68},{"s":"CSF_in","x":8.92,"y":2.2},{"s":"CSF_in","x":8.925,"y":1.81},{"s":"CSF_in","x":8.932,"y":1.55},{"s":"CSF_in","x":8.938,"y":1.38},{"s":"CSF_in","x":8.946,"y":1.15},{"s":"CSF_in","x":8.955,"y":0.94},{"s":"CSF_in","x":8.968,"y":0.72},{"s":"CSF_in","x":8.99,"y":0.48},
{"s":"CSF_out","x":8.629,"y":0.05},{"s":"CSF_out","x":8.65,"y":0.12},{"s":"CSF_out","x":8.666,"y":0.22},{"s":"CSF_out","x":8.683,"y":0.36},{"s":"CSF_out","x":8.699,"y":0.51},{"s":"CSF_out","x":8.716,"y":0.65},{"s":"CSF_out","x":8.733,"y":0.8},{"s":"CSF_out","x":8.752,"y":1.09},{"s":"CSF_out","x":8.762,"y":1.35},{"s":"CSF_out","x":8.772,"y":1.67},{"s":"CSF_out","x":8.782,"y":2.25},{"s":"CSF_out","x":8.792,"y":2.97},{"s":"CSF_out","x":8.799,"y":3.55},{"s":"CSF_out","x":8.805,"y":4.13},{"s":"CSF_out","x":8.812,"y":4.85},{"s":"CSF_out","x":8.819,"y":5.58},{"s":"CSF_out","x":8.824,"y":6.25},{"s":"CSF_out","x":8.829,"y":6.88},{"s":"CSF_out","x":8.835,"y":7.9},{"s":"CSF_out","x":8.842,"y":8.6},{"s":"CSF_out","x":8.848,"y":9.1},{"s":"CSF_out","x":8.855,"y":9.3},{"s":"CSF_out","x":8.862,"y":9.0},{"s":"CSF_out","x":8.868,"y":8.33},{"s":"CSF_out","x":8.873,"y":7.7},{"s":"CSF_out","x":8.878,"y":7.03},{"s":"CSF_out","x":8.883,"y":6.35},{"s":"CSF_out","x":8.888,"y":5.72},{"s":"CSF_out","x":8.893,"y":5.15},{"s":"CSF_out","x":8.898,"y":4.57},{"s":"CSF_out","x":8.903,"y":3.9},{"s":"CSF_out","x":8.908,"y":3.26},{"s":"CSF_out","x":8.913,"y":2.7},{"s":"CSF_out","x":8.918,"y":2.25},{"s":"CSF_out","x":8.925,"y":1.9},{"s":"CSF_out","x":8.932,"y":1.67},{"s":"CSF_out","x":8.94,"y":1.45},{"s":"CSF_out","x":8.948,"y":1.23},{"s":"CSF_out","x":8.957,"y":1.03},{"s":"CSF_out","x":8.965,"y":0.87},{"s":"CSF_out","x":8.978,"y":0.68},{"s":"CSF_out","x":8.99,"y":0.51},
{"s":"CGV_in","x":8.629,"y":0},{"s":"CGV_in","x":8.645,"y":0.05},{"s":"CGV_in","x":8.654,"y":0.14},{"s":"CGV_in","x":8.663,"y":0.25},{"s":"CGV_in","x":8.673,"y":0.36},{"s":"CGV_in","x":8.683,"y":0.55},{"s":"CGV_in","x":8.693,"y":0.8},{"s":"CGV_in","x":8.701,"y":1.05},{"s":"CGV_in","x":8.71,"y":1.38},{"s":"CGV_in","x":8.718,"y":1.85},{"s":"CGV_in","x":8.727,"y":2.39},{"s":"CGV_in","x":8.733,"y":2.95},{"s":"CGV_in","x":8.74,"y":3.55},{"s":"CGV_in","x":8.747,"y":4.15},{"s":"CGV_in","x":8.753,"y":4.71},{"s":"CGV_in","x":8.758,"y":5.2},{"s":"CGV_in","x":8.763,"y":5.72},{"s":"CGV_in","x":8.768,"y":6.3},{"s":"CGV_in","x":8.773,"y":6.88},{"s":"CGV_in","x":8.777,"y":7.3},{"s":"CGV_in","x":8.78,"y":7.61},{"s":"CGV_in","x":8.786,"y":8.19},{"s":"CGV_in","x":8.793,"y":9.0},{"s":"CGV_in","x":8.8,"y":9.7},{"s":"CGV_in","x":8.806,"y":9.4},{"s":"CGV_in","x":8.812,"y":8.3},{"s":"CGV_in","x":8.816,"y":7.6},{"s":"CGV_in","x":8.819,"y":7.03},{"s":"CGV_in","x":8.824,"y":6.3},{"s":"CGV_in","x":8.829,"y":5.72},{"s":"CGV_in","x":8.834,"y":5.3},{"s":"CGV_in","x":8.839,"y":5.0},{"s":"CGV_in","x":8.844,"y":4.75},{"s":"CGV_in","x":8.849,"y":4.57},{"s":"CGV_in","x":8.854,"y":4.42},{"s":"CGV_in","x":8.859,"y":4.28},{"s":"CGV_in","x":8.864,"y":4.1},{"s":"CGV_in","x":8.869,"y":3.84},{"s":"CGV_in","x":8.875,"y":3.35},{"s":"CGV_in","x":8.882,"y":2.83},{"s":"CGV_in","x":8.887,"y":2.3},{"s":"CGV_in","x":8.892,"y":1.81},{"s":"CGV_in","x":8.897,"y":1.4},{"s":"CGV_in","x":8.902,"y":1.09},{"s":"CGV_in","x":8.909,"y":0.75},{"s":"CGV_in","x":8.916,"y":0.51},{"s":"CGV_in","x":8.924,"y":0.3},{"s":"CGV_in","x":8.932,"y":0.14},{"s":"CGV_in","x":8.945,"y":0.02},{"s":"CGV_in","x":8.99,"y":0},
{"s":"CGV_out","x":8.629,"y":0.02},{"s":"CGV_out","x":8.645,"y":0.1},{"s":"CGV_out","x":8.66,"y":0.22},{"s":"CGV_out","x":8.673,"y":0.36},{"s":"CGV_out","x":8.687,"y":0.51},{"s":"CGV_out","x":8.697,"y":0.68},{"s":"CGV_out","x":8.707,"y":0.87},{"s":"CGV_out","x":8.717,"y":1.2},{"s":"CGV_out","x":8.727,"y":1.52},{"s":"CGV_out","x":8.737,"y":1.8},{"s":"CGV_out","x":8.746,"y":2.1},{"s":"CGV_out","x":8.755,"y":2.4},{"s":"CGV_out","x":8.763,"y":2.68},{"s":"CGV_out","x":8.77,"y":2.97},{"s":"CGV_out","x":8.776,"y":3.26},{"s":"CGV_out","x":8.783,"y":3.65},{"s":"CGV_out","x":8.79,"y":4.13},{"s":"CGV_out","x":8.797,"y":4.55},{"s":"CGV_out","x":8.803,"y":5.0},{"s":"CGV_out","x":8.808,"y":5.4},{"s":"CGV_out","x":8.813,"y":5.87},{"s":"CGV_out","x":8.818,"y":6.45},{"s":"CGV_out","x":8.823,"y":7.03},{"s":"CGV_out","x":8.828,"y":7.6},{"s":"CGV_out","x":8.833,"y":8.19},{"s":"CGV_out","x":8.84,"y":9.0},{"s":"CGV_out","x":8.847,"y":9.4},{"s":"CGV_out","x":8.853,"y":9.1},{"s":"CGV_out","x":8.859,"y":8.19},{"s":"CGV_out","x":8.862,"y":7.8},{"s":"CGV_out","x":8.866,"y":7.46},{"s":"CGV_out","x":8.871,"y":6.8},{"s":"CGV_out","x":8.876,"y":6.16},{"s":"CGV_out","x":8.881,"y":5.45},{"s":"CGV_out","x":8.886,"y":4.71},{"s":"CGV_out","x":8.891,"y":4.0},{"s":"CGV_out","x":8.896,"y":3.26},{"s":"CGV_out","x":8.901,"y":2.65},{"s":"CGV_out","x":8.906,"y":2.1},{"s":"CGV_out","x":8.912,"y":1.55},{"s":"CGV_out","x":8.919,"y":1.09},{"s":"CGV_out","x":8.927,"y":0.65},{"s":"CGV_out","x":8.935,"y":0.36},{"s":"CGV_out","x":8.943,"y":0.22},{"s":"CGV_out","x":8.952,"y":0.14},{"s":"CGV_out","x":8.97,"y":0.08},{"s":"CGV_out","x":8.99,"y":0.07},
{"s":"CQC_in","x":8.629,"y":0.48},{"s":"CQC_in","x":8.637,"y":0.7},{"s":"CQC_in","x":8.644,"y":0.94},{"s":"CQC_in","x":8.651,"y":1.2},{"s":"CQC_in","x":8.658,"y":1.52},{"s":"CQC_in","x":8.665,"y":1.95},{"s":"CQC_in","x":8.671,"y":2.39},{"s":"CQC_in","x":8.678,"y":2.95},{"s":"CQC_in","x":8.684,"y":3.55},{"s":"CQC_in","x":8.691,"y":4.3},{"s":"CQC_in","x":8.697,"y":5.0},{"s":"CQC_in","x":8.704,"y":5.6},{"s":"CQC_in","x":8.711,"y":6.16},{"s":"CQC_in","x":8.716,"y":6.55},{"s":"CQC_in","x":8.721,"y":6.88},{"s":"CQC_in","x":8.726,"y":7.1},{"s":"CQC_in","x":8.731,"y":7.25},{"s":"CQC_in","x":8.736,"y":7.33},{"s":"CQC_in","x":8.74,"y":7.35},{"s":"CQC_in","x":8.745,"y":7.28},{"s":"CQC_in","x":8.75,"y":7.17},{"s":"CQC_in","x":8.755,"y":6.98},{"s":"CQC_in","x":8.76,"y":6.74},{"s":"CQC_in","x":8.765,"y":6.4},{"s":"CQC_in","x":8.77,"y":6.01},{"s":"CQC_in","x":8.775,"y":5.6},{"s":"CQC_in","x":8.78,"y":5.14},{"s":"CQC_in","x":8.785,"y":4.65},{"s":"CQC_in","x":8.79,"y":4.13},{"s":"CQC_in","x":8.795,"y":3.6},{"s":"CQC_in","x":8.8,"y":3.12},{"s":"CQC_in","x":8.806,"y":2.6},{"s":"CQC_in","x":8.813,"y":2.1},{"s":"CQC_in","x":8.82,"y":1.78},{"s":"CQC_in","x":8.827,"y":1.52},{"s":"CQC_in","x":8.837,"y":1.2},{"s":"CQC_in","x":8.847,"y":0.94},{"s":"CQC_in","x":8.857,"y":0.8},{"s":"CQC_in","x":8.867,"y":0.72},{"s":"CQC_in","x":8.88,"y":0.68},{"s":"CQC_in","x":8.896,"y":0.65},{"s":"CQC_in","x":8.915,"y":0.64},{"s":"CQC_in","x":8.93,"y":0.65},{"s":"CQC_in","x":8.96,"y":0.66},{"s":"CQC_in","x":8.99,"y":0.68},
{"s":"CQC_out","x":8.629,"y":0.02},{"s":"CQC_out","x":8.645,"y":0.06},{"s":"CQC_out","x":8.664,"y":0.14},{"s":"CQC_out","x":8.68,"y":0.3},{"s":"CQC_out","x":8.697,"y":0.51},{"s":"CQC_out","x":8.711,"y":0.78},{"s":"CQC_out","x":8.724,"y":1.09},{"s":"CQC_out","x":8.736,"y":1.5},{"s":"CQC_out","x":8.747,"y":1.96},{"s":"CQC_out","x":8.757,"y":2.45},{"s":"CQC_out","x":8.767,"y":2.97},{"s":"CQC_out","x":8.774,"y":3.45},{"s":"CQC_out","x":8.78,"y":3.99},{"s":"CQC_out","x":8.787,"y":4.62},{"s":"CQC_out","x":8.794,"y":5.29},{"s":"CQC_out","x":8.799,"y":5.95},{"s":"CQC_out","x":8.803,"y":6.59},{"s":"CQC_out","x":8.808,"y":7.15},{"s":"CQC_out","x":8.813,"y":7.68},{"s":"CQC_out","x":8.817,"y":7.9},{"s":"CQC_out","x":8.822,"y":7.85},{"s":"CQC_out","x":8.827,"y":7.68},{"s":"CQC_out","x":8.832,"y":7.25},{"s":"CQC_out","x":8.837,"y":6.74},{"s":"CQC_out","x":8.842,"y":6.2},{"s":"CQC_out","x":8.847,"y":5.58},{"s":"CQC_out","x":8.852,"y":5.0},{"s":"CQC_out","x":8.857,"y":4.42},{"s":"CQC_out","x":8.863,"y":3.75},{"s":"CQC_out","x":8.87,"y":3.12},{"s":"CQC_out","x":8.876,"y":2.65},{"s":"CQC_out","x":8.883,"y":2.25},{"s":"CQC_out","x":8.89,"y":1.92},{"s":"CQC_out","x":8.896,"y":1.67},{"s":"CQC_out","x":8.904,"y":1.5},{"s":"CQC_out","x":8.913,"y":1.38},{"s":"CQC_out","x":8.923,"y":1.26},{"s":"CQC_out","x":8.933,"y":1.16},{"s":"CQC_out","x":8.945,"y":1.08},{"s":"CQC_out","x":8.956,"y":1.01},{"s":"CQC_out","x":8.972,"y":0.95},{"s":"CQC_out","x":8.99,"y":0.91}
]
},
"columns":3,
"spacing":{"row":65,"column":15},
"bounds":"flush",
"resolve":{"scale":{"fill":"independent","stroke":"independent","strokeDash":"independent"}},
"concat":[
{"width":362,"height":278,
"encoding":{"x":{"field":"r","type":"quantitative","scale":{"domain":[0.05,2.094],"nice":false,"zero":false},"axis":{"values":[0.5,1,1.5,2],"format":".1f","title":null}},
"y":{"field":"v","type":"quantitative","scale":{"domain":[8.572,9.05],"nice":false,"zero":false},"axis":{"values":[8.6,8.7,8.8,8.9,9.0],"format":".1f","title":"LOG(O/H)+12_[N2]"}}},
"layer":[
{"data":{"name":"csf"},"mark":{"type":"line","stroke":"#000080","strokeOpacity":0.2,"strokeWidth":2,"clip":true},"encoding":{"detail":{"field":"id","type":"nominal"}}},
{"data":{"name":"bbrd"},"mark":{"type":"line","stroke":"#ff00ff","strokeOpacity":0.75,"strokeWidth":1.6,"clip":true},"encoding":{"detail":{"field":"id","type":"nominal"}}},
{"data":{"name":"means"},"transform":[{"filter":"datum.g=='BBRD'"}],"mark":{"type":"line","stroke":"#ff00ff","strokeWidth":10,"clip":true}},
{"data":{"name":"means"},"transform":[{"filter":"datum.g=='BBRD'"}],"mark":{"type":"point","shape":"diamond","filled":true,"fill":"#ff00ff","stroke":"#ffffff","strokeWidth":1,"size":130,"opacity":1,"clip":true}},
{"data":{"name":"means"},"transform":[{"filter":"datum.g=='CSF'"}],"mark":{"type":"line","stroke":"#000080","strokeWidth":10,"clip":true}},
{"data":{"name":"means"},"transform":[{"filter":"datum.g=='CSF'"}],"mark":{"type":"point","shape":"diamond","filled":true,"fill":"#000080","stroke":"#ffffff","strokeWidth":1,"size":130,"opacity":1,"clip":true}}
]},
{"width":361,"height":278,
"encoding":{"x":{"field":"r","type":"quantitative","scale":{"domain":[0.05,2.094],"nice":false,"zero":false},"axis":{"values":[0.5,1,1.5,2],"format":".1f","title":"R/Reff","titleFont":"DejaVu Sans","titleFontStyle":"italic","titlePadding":3}},
"y":{"field":"v","type":"quantitative","scale":{"domain":[8.572,9.05],"nice":false,"zero":false},"axis":{"values":[8.6,8.7,8.8,8.9,9.0],"labels":false,"title":null}}},
"layer":[
{"data":{"name":"cgv"},"mark":{"type":"line","stroke":"#228b22","strokeOpacity":0.2,"strokeWidth":2,"clip":true},"encoding":{"detail":{"field":"id","type":"nominal"}}},
{"data":{"name":"bbrd"},"mark":{"type":"line","stroke":"#ff00ff","strokeOpacity":0.75,"strokeWidth":1.6,"clip":true},"encoding":{"detail":{"field":"id","type":"nominal"}}},
{"data":{"name":"means"},"transform":[{"filter":"datum.g=='BBRD'"}],"mark":{"type":"line","stroke":"#ff00ff","strokeWidth":10,"clip":true}},
{"data":{"name":"means"},"transform":[{"filter":"datum.g=='BBRD'"}],"mark":{"type":"point","shape":"diamond","filled":true,"fill":"#ff00ff","stroke":"#ffffff","strokeWidth":1,"size":130,"opacity":1,"clip":true}},
{"data":{"name":"means"},"transform":[{"filter":"datum.g=='CGV'"}],"mark":{"type":"line","stroke":"#228b22","strokeWidth":10,"clip":true}},
{"data":{"name":"means"},"transform":[{"filter":"datum.g=='CGV'"}],"mark":{"type":"point","shape":"diamond","filled":true,"fill":"#228b22","stroke":"#ffffff","strokeWidth":1,"size":130,"opacity":1,"clip":true}}
]},
{"width":362,"height":278,
"encoding":{"x":{"field":"r","type":"quantitative","scale":{"domain":[0.05,2.094],"nice":false,"zero":false},"axis":{"values":[0.5,1,1.5,2],"format":".1f","title":null}},
"y":{"field":"v","type":"quantitative","scale":{"domain":[8.572,9.05],"nice":false,"zero":false},"axis":{"values":[8.6,8.7,8.8,8.9,9.0],"labels":false,"title":null}}},
"layer":[
{"data":{"name":"cqc"},"mark":{"type":"line","stroke":"#800000","strokeOpacity":0.2,"strokeWidth":2,"clip":true},"encoding":{"detail":{"field":"id","type":"nominal"}}},
{"data":{"name":"bbrd"},"mark":{"type":"line","stroke":"#ff00ff","strokeOpacity":0.75,"strokeWidth":1.6,"clip":true},"encoding":{"detail":{"field":"id","type":"nominal"}}},
{"data":{"name":"means"},"transform":[{"filter":"datum.g=='BBRD'"}],"mark":{"type":"line","stroke":"#ff00ff","strokeWidth":10,"clip":true}},
{"data":{"name":"means"},"transform":[{"filter":"datum.g=='BBRD'"}],"mark":{"type":"point","shape":"diamond","filled":true,"fill":"#ff00ff","stroke":"#ffffff","strokeWidth":1,"size":130,"opacity":1,"clip":true}},
{"data":{"name":"means"},"transform":[{"filter":"datum.g=='CQC'"}],"mark":{"type":"line","stroke":"#800000","strokeWidth":10,"clip":true}},
{"data":{"name":"means"},"transform":[{"filter":"datum.g=='CQC'"}],"mark":{"type":"point","shape":"diamond","filled":true,"fill":"#800000","stroke":"#ffffff","strokeWidth":1,"size":130,"opacity":1,"clip":true}}
]},
{"width":362,"height":279,
"encoding":{"x":{"field":"x","type":"quantitative","scale":{"domain":[8.629,8.99],"nice":false,"zero":false},"axis":{"values":[8.7,8.8,8.9],"format":".1f","title":null}},
"y":{"field":"y","type":"quantitative","stack":null,"scale":{"domain":[0,12.1],"nice":false},"axis":{"values":[0,2,4,6,8,10,12],"title":"Prob. Density","titleFont":"DejaVu Sans","titleFontStyle":"italic"}}},
"layer":[
{"data":{"name":"kde"},"transform":[{"filter":{"field":"s","oneOf":["BBRD_in","BBRD_out"]}}],"mark":{"type":"area","clip":true,"interpolate":"monotone"},"encoding":{"fill":{"field":"s","type":"nominal","title":null,"scale":{"domain":["BBRD_in","BBRD_out","CSF_in","CSF_out"],"range":["rgba(255,0,255,0.28)","rgba(255,0,255,0.28)","rgba(0,0,128,0.28)","rgba(0,0,128,0.28)"]},
"legend":{"orient":"none","legendX":47,"legendY":6,"title":null,"labelExpr":"datum.label=='BBRD_in'?'BBRD_in N=740.0 μ = 8.82 σ = 0.04':datum.label=='BBRD_out'?'BBRD_out N=5999.0 μ = 8.81 σ = 0.06':datum.label=='CSF_in'?'CSF_in N=8303.0 μ = 8.86 σ = 0.08':'CSF_out N=58615.0 μ = 8.85 σ = 0.06'"}}}},
{"data":{"name":"kde"},"transform":[{"filter":{"field":"s","oneOf":["BBRD_in","BBRD_out"]}}],"mark":{"type":"line","clip":true,"strokeWidth":3.5,"interpolate":"monotone"},"encoding":{
"stroke":{"field":"s","type":"nominal","title":null,"scale":{"domain":["BBRD_in","BBRD_out","CSF_in","CSF_out"],"range":["#ff00ff","#ff00ff","#000080","#000080"]},
"legend":{"orient":"none","legendX":47,"legendY":6,"title":null,"labelExpr":"datum.label=='BBRD_in'?'BBRD_in N=740.0 μ = 8.82 σ = 0.04':datum.label=='BBRD_out'?'BBRD_out N=5999.0 μ = 8.81 σ = 0.06':datum.label=='CSF_in'?'CSF_in N=8303.0 μ = 8.86 σ = 0.08':'CSF_out N=58615.0 μ = 8.85 σ = 0.06'"}},
"strokeDash":{"field":"s","type":"nominal","title":null,"scale":{"domain":["BBRD_in","BBRD_out","CSF_in","CSF_out"],"range":[[4,5],[1,0],[4,5],[1,0]]},
"legend":{"orient":"none","legendX":47,"legendY":6,"title":null,"labelExpr":"datum.label=='BBRD_in'?'BBRD_in N=740.0 μ = 8.82 σ = 0.04':datum.label=='BBRD_out'?'BBRD_out N=5999.0 μ = 8.81 σ = 0.06':datum.label=='CSF_in'?'CSF_in N=8303.0 μ = 8.86 σ = 0.08':'CSF_out N=58615.0 μ = 8.85 σ = 0.06'"}}}},
{"data":{"name":"kde"},"transform":[{"filter":{"field":"s","oneOf":["CSF_in","CSF_out"]}}],"mark":{"type":"area","clip":true,"interpolate":"monotone"},"encoding":{"fill":{"field":"s","type":"nominal","title":null,"scale":{"domain":["BBRD_in","BBRD_out","CSF_in","CSF_out"],"range":["rgba(255,0,255,0.28)","rgba(255,0,255,0.28)","rgba(0,0,128,0.28)","rgba(0,0,128,0.28)"]}}}},
{"data":{"name":"kde"},"transform":[{"filter":{"field":"s","oneOf":["CSF_in","CSF_out"]}}],"mark":{"type":"line","clip":true,"strokeWidth":3.5,"interpolate":"monotone"},"encoding":{
"stroke":{"field":"s","type":"nominal","title":null,"scale":{"domain":["BBRD_in","BBRD_out","CSF_in","CSF_out"],"range":["#ff00ff","#ff00ff","#000080","#000080"]}},
"strokeDash":{"field":"s","type":"nominal","title":null,"scale":{"domain":["BBRD_in","BBRD_out","CSF_in","CSF_out"],"range":[[4,5],[1,0],[4,5],[1,0]]}}}},
{"data":{"name":"zero"},"mark":{"type":"rule","stroke":"#000080","strokeWidth":4,"clip":true},"encoding":{"y":{"field":"y","type":"quantitative"}}}
]},
{"width":361,"height":279,
"encoding":{"x":{"field":"x","type":"quantitative","scale":{"domain":[8.629,8.99],"nice":false,"zero":false},"axis":{"values":[8.7,8.8,8.9],"format":".1f","title":"LOG(O/H)+12_[N2]","titlePadding":3}},
"y":{"field":"y","type":"quantitative","stack":null,"scale":{"domain":[0,12.1],"nice":false},"axis":{"values":[0,2,4,6,8,10,12],"labels":false,"title":null}}},
"layer":[
{"data":{"name":"kde"},"transform":[{"filter":{"field":"s","oneOf":["BBRD_in","BBRD_out"]}}],"mark":{"type":"area","clip":true,"interpolate":"monotone"},"encoding":{"fill":{"field":"s","type":"nominal","title":null,"scale":{"domain":["BBRD_in","BBRD_out","CGV_in","CGV_out"],"range":["rgba(255,0,255,0.28)","rgba(255,0,255,0.28)","rgba(34,139,34,0.28)","rgba(34,139,34,0.28)"]},
"legend":{"orient":"none","legendX":45,"legendY":6,"title":null,"labelExpr":"datum.label=='BBRD_in'?'BBRD_in N=740.0 μ = 8.82 σ = 0.04':datum.label=='BBRD_out'?'BBRD_out N=5999.0 μ = 8.81 σ = 0.06':datum.label=='CGV_in'?'CGV_in N=1956.0 μ = 8.8 σ = 0.05':'CGV_out N=13538.0 μ = 8.83 σ = 0.06'"}}}},
{"data":{"name":"kde"},"transform":[{"filter":{"field":"s","oneOf":["BBRD_in","BBRD_out"]}}],"mark":{"type":"line","clip":true,"strokeWidth":3.5,"interpolate":"monotone"},"encoding":{
"stroke":{"field":"s","type":"nominal","title":null,"scale":{"domain":["BBRD_in","BBRD_out","CGV_in","CGV_out"],"range":["#ff00ff","#ff00ff","#228b22","#228b22"]},
"legend":{"orient":"none","legendX":45,"legendY":6,"title":null,"labelExpr":"datum.label=='BBRD_in'?'BBRD_in N=740.0 μ = 8.82 σ = 0.04':datum.label=='BBRD_out'?'BBRD_out N=5999.0 μ = 8.81 σ = 0.06':datum.label=='CGV_in'?'CGV_in N=1956.0 μ = 8.8 σ = 0.05':'CGV_out N=13538.0 μ = 8.83 σ = 0.06'"}},
"strokeDash":{"field":"s","type":"nominal","title":null,"scale":{"domain":["BBRD_in","BBRD_out","CGV_in","CGV_out"],"range":[[4,5],[1,0],[4,5],[1,0]]},
"legend":{"orient":"none","legendX":45,"legendY":6,"title":null,"labelExpr":"datum.label=='BBRD_in'?'BBRD_in N=740.0 μ = 8.82 σ = 0.04':datum.label=='BBRD_out'?'BBRD_out N=5999.0 μ = 8.81 σ = 0.06':datum.label=='CGV_in'?'CGV_in N=1956.0 μ = 8.8 σ = 0.05':'CGV_out N=13538.0 μ = 8.83 σ = 0.06'"}}}},
{"data":{"name":"kde"},"transform":[{"filter":{"field":"s","oneOf":["CGV_in","CGV_out"]}}],"mark":{"type":"area","clip":true,"interpolate":"monotone"},"encoding":{"fill":{"field":"s","type":"nominal","title":null,"scale":{"domain":["BBRD_in","BBRD_out","CGV_in","CGV_out"],"range":["rgba(255,0,255,0.28)","rgba(255,0,255,0.28)","rgba(34,139,34,0.28)","rgba(34,139,34,0.28)"]}}}},
{"data":{"name":"kde"},"transform":[{"filter":{"field":"s","oneOf":["CGV_in","CGV_out"]}}],"mark":{"type":"line","clip":true,"strokeWidth":3.5,"interpolate":"monotone"},"encoding":{
"stroke":{"field":"s","type":"nominal","title":null,"scale":{"domain":["BBRD_in","BBRD_out","CGV_in","CGV_out"],"range":["#ff00ff","#ff00ff","#228b22","#228b22"]}},
"strokeDash":{"field":"s","type":"nominal","title":null,"scale":{"domain":["BBRD_in","BBRD_out","CGV_in","CGV_out"],"range":[[4,5],[1,0],[4,5],[1,0]]}}}},
{"data":{"name":"zero"},"mark":{"type":"rule","stroke":"#228b22","strokeWidth":4,"clip":true},"encoding":{"y":{"field":"y","type":"quantitative"}}}
]},
{"width":362,"height":279,
"encoding":{"x":{"field":"x","type":"quantitative","scale":{"domain":[8.629,8.99],"nice":false,"zero":false},"axis":{"values":[8.7,8.8,8.9],"format":".1f","title":null}},
"y":{"field":"y","type":"quantitative","stack":null,"scale":{"domain":[0,12.1],"nice":false},"axis":{"values":[0,2,4,6,8,10,12],"labels":false,"title":null}}},
"layer":[
{"data":{"name":"kde"},"transform":[{"filter":{"field":"s","oneOf":["BBRD_in","BBRD_out"]}}],"mark":{"type":"area","clip":true,"interpolate":"monotone"},"encoding":{"fill":{"field":"s","type":"nominal","title":null,"scale":{"domain":["BBRD_in","BBRD_out","CQC_in","CQC_out"],"range":["rgba(255,0,255,0.28)","rgba(255,0,255,0.28)","rgba(128,0,0,0.22)","rgba(128,0,0,0.22)"]},
"legend":{"orient":"none","legendX":45,"legendY":6,"title":null,"labelExpr":"datum.label=='BBRD_in'?'BBRD_in N=740.0 μ = 8.82 σ = 0.04':datum.label=='BBRD_out'?'BBRD_out N=5999.0 μ = 8.81 σ = 0.06':datum.label=='CQC_in'?'CQC_in N=211.0 μ = 8.78 σ = 0.11':'CQC_out N=3360.0 μ = 8.83 σ = 0.08'"}}}},
{"data":{"name":"kde"},"transform":[{"filter":{"field":"s","oneOf":["BBRD_in","BBRD_out"]}}],"mark":{"type":"line","clip":true,"strokeWidth":3.5,"interpolate":"monotone"},"encoding":{
"stroke":{"field":"s","type":"nominal","title":null,"scale":{"domain":["BBRD_in","BBRD_out","CQC_in","CQC_out"],"range":["#ff00ff","#ff00ff","#800000","#800000"]},
"legend":{"orient":"none","legendX":45,"legendY":6,"title":null,"labelExpr":"datum.label=='BBRD_in'?'BBRD_in N=740.0 μ = 8.82 σ = 0.04':datum.label=='BBRD_out'?'BBRD_out N=5999.0 μ = 8.81 σ = 0.06':datum.label=='CQC_in'?'CQC_in N=211.0 μ = 8.78 σ = 0.11':'CQC_out N=3360.0 μ = 8.83 σ = 0.08'"}},
"strokeDash":{"field":"s","type":"nominal","title":null,"scale":{"domain":["BBRD_in","BBRD_out","CQC_in","CQC_out"],"range":[[4,5],[1,0],[4,5],[1,0]]},
"legend":{"orient":"none","legendX":45,"legendY":6,"title":null,"labelExpr":"datum.label=='BBRD_in'?'BBRD_in N=740.0 μ = 8.82 σ = 0.04':datum.label=='BBRD_out'?'BBRD_out N=5999.0 μ = 8.81 σ = 0.06':datum.label=='CQC_in'?'CQC_in N=211.0 μ = 8.78 σ = 0.11':'CQC_out N=3360.0 μ = 8.83 σ = 0.08'"}}}},
{"data":{"name":"kde"},"transform":[{"filter":{"field":"s","oneOf":["CQC_in","CQC_out"]}}],"mark":{"type":"area","clip":true,"interpolate":"monotone"},"encoding":{"fill":{"field":"s","type":"nominal","title":null,"scale":{"domain":["BBRD_in","BBRD_out","CQC_in","CQC_out"],"range":["rgba(255,0,255,0.28)","rgba(255,0,255,0.28)","rgba(128,0,0,0.22)","rgba(128,0,0,0.22)"]}}}},
{"data":{"name":"kde"},"transform":[{"filter":{"field":"s","oneOf":["CQC_in","CQC_out"]}}],"mark":{"type":"line","clip":true,"strokeWidth":3.5,"interpolate":"monotone"},"encoding":{
"stroke":{"field":"s","type":"nominal","title":null,"scale":{"domain":["BBRD_in","BBRD_out","CQC_in","CQC_out"],"range":["#ff00ff","#ff00ff","#800000","#800000"]}},
"strokeDash":{"field":"s","type":"nominal","title":null,"scale":{"domain":["BBRD_in","BBRD_out","CQC_in","CQC_out"],"range":[[4,5],[1,0],[4,5],[1,0]]}}}},
{"data":{"name":"zero"},"mark":{"type":"rule","stroke":"#800000","strokeWidth":4,"clip":true},"encoding":{"y":{"field":"y","type":"quantitative"}}}
]}
],
"config":{
"font":"Liberation Sans",
"view":{"fill":"#eaeaf2","stroke":null},
"axis":{"grid":true,"gridColor":"#ffffff","gridWidth":1.6,"gridOpacity":1,"ticks":false,"domain":false,"labelFont":"Liberation Sans","labelFontSize":15,"labelColor":"#262626","titleFont":"Liberation Sans","titleFontSize":24,"titleColor":"#262626","titleFontWeight":"normal","labelPadding":5,"titlePadding":4},
"legend":{"labelFont":"Liberation Sans","labelFontSize":13.5,"labelColor":"#262626","labelLimit":400,"labelOffset":22,"fillColor":"#ececf3","strokeColor":"#c4c4c8","strokeWidth":1.5,"cornerRadius":3,"padding":3,"rowPadding":0,"clipHeight":18.7,"symbolType":"M-1,-0.667H3V0.667H-1Z","symbolSize":225,"symbolStrokeWidth":3,"symbolOpacity":1}
}
}
